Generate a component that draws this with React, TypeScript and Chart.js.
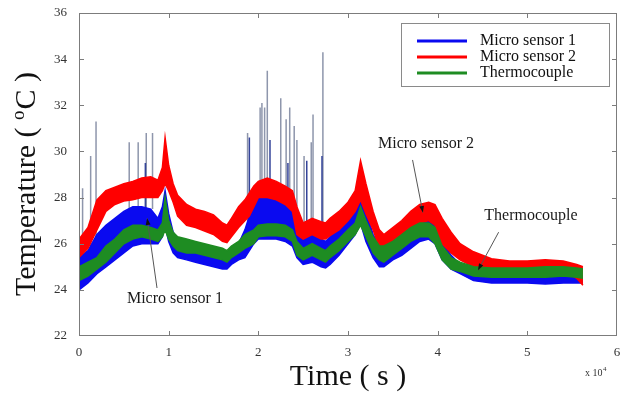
import React, { useEffect, useRef } from "react";
import { Chart, registerables } from "chart.js";

Chart.register(...registerables);

// Time in units of 10^4 s
const TIME = [0, 0.1, 0.2, 0.3, 0.4, 0.5, 0.6, 0.7, 0.8, 0.88, 0.93, 0.96, 1.0, 1.05, 1.1, 1.2, 1.3, 1.4, 1.5, 1.6, 1.65, 1.7, 1.78, 1.85, 1.9, 1.95, 2.0, 2.1, 2.2, 2.3, 2.38, 2.43, 2.5, 2.6, 2.7, 2.75, 2.8, 2.9, 3.0, 3.08, 3.14, 3.2, 3.28, 3.35, 3.4, 3.5, 3.6, 3.7, 3.8, 3.9, 3.97, 4.05, 4.15, 4.25, 4.4, 4.6, 4.8, 5.0, 5.2, 5.4, 5.55, 5.62];

// Micro sensor 2 (red) band: upper / lower envelope
const SENSOR2_HIGH = [26.2, 26.7, 27.9, 28.3, 28.45, 28.6, 28.7, 28.85, 28.9, 28.75, 29.3, 30.6, 29.4, 28.6, 28.1, 27.7, 27.5, 27.4, 27.25, 26.9, 26.8, 27.1, 27.6, 27.9, 28.2, 28.5, 28.7, 28.85, 28.7, 28.5, 28.3, 27.6, 26.9, 27.1, 26.95, 26.9, 27.1, 27.4, 27.8, 28.3, 29.6, 28.6, 27.4, 26.6, 26.4, 26.7, 27.0, 27.4, 27.7, 27.8, 27.7, 27.1, 26.5, 26.0, 25.65, 25.35, 25.25, 25.25, 25.3, 25.25, 25.1, 25.0];
const SENSOR2_LOW = [25.4, 25.8, 26.6, 27.4, 27.7, 27.85, 27.9, 28.0, 28.0, 28.0, 28.3, 28.6, 28.3, 27.8, 27.2, 26.8, 26.7, 26.55, 26.4, 26.1, 26.05, 26.3, 26.7, 27.0, 27.2, 27.6, 28.0, 28.0, 27.9, 27.7, 27.4, 26.4, 26.2, 26.4, 26.2, 26.2, 26.35, 26.6, 27.0, 27.4, 27.9, 27.3, 26.6, 25.8, 25.7, 25.9, 26.2, 26.6, 26.9, 27.0, 26.8, 26.0, 25.6, 25.3, 25.0, 24.9, 24.9, 24.85, 24.85, 24.85, 24.5, 24.2];

// Micro sensor 1 (blue) band
const SENSOR1_HIGH = [25.4, 25.7, 26.4, 26.8, 27.1, 27.4, 27.6, 27.6, 27.5, 27.1, 27.6, 28.3, 27.3, 26.5, 26.2, 26.0, 25.9, 25.8, 25.7, 25.6, 25.5, 25.8, 26.0, 26.6, 27.2, 27.6, 28.0, 28.1, 27.9, 27.8, 27.4, 26.8, 26.3, 26.6, 26.2, 26.1, 26.3, 26.7, 27.2, 27.6, 28.3, 27.4, 26.4, 25.9, 25.8, 26.0, 26.3, 26.6, 26.9, 27.0, 26.9, 26.0, 25.5, 25.1, 24.9, 24.7, 24.6, 24.6, 24.6, 24.6, 24.6, 24.6];
const SENSOR1_LOW = [24.0, 24.3, 24.7, 25.0, 25.3, 25.6, 25.9, 26.0, 26.0, 26.0, 26.3, 26.8, 26.1, 25.6, 25.4, 25.3, 25.2, 25.1, 25.0, 24.9, 24.9, 25.1, 25.3, 25.4, 25.7, 26.0, 26.2, 26.2, 26.2, 26.1, 25.9, 25.4, 25.1, 25.2, 25.0, 24.95, 25.1, 25.5, 26.0, 26.4, 26.9, 26.1, 25.4, 25.0, 25.0, 25.3, 25.5, 25.8, 26.1, 26.2, 26.0, 25.3, 24.9, 24.7, 24.4, 24.3, 24.3, 24.3, 24.25, 24.3, 24.3, 24.3];

// Thermocouple (green) band
const THERMO_HIGH = [25.0, 25.2, 25.4, 25.9, 26.2, 26.6, 26.8, 26.8, 26.7, 26.6, 26.9, 28.0, 27.0, 26.5, 26.3, 26.2, 26.1, 26.0, 25.9, 25.8, 25.7, 25.9, 26.1, 26.4, 26.5, 26.6, 26.8, 26.85, 26.85, 26.8, 26.6, 26.1, 25.8, 26.0, 25.8, 25.7, 25.9, 26.2, 26.6, 26.9, 27.6, 27.0, 26.3, 25.9, 25.9, 26.1, 26.4, 26.7, 26.9, 26.9, 26.7, 25.9, 25.4, 25.2, 25.0, 24.95, 24.95, 24.95, 25.0, 25.0, 24.95, 24.9];
const THERMO_LOW = [24.4, 24.6, 24.9, 25.2, 25.6, 26.0, 26.2, 26.3, 26.2, 26.1, 26.3, 26.6, 26.2, 25.9, 25.7, 25.6, 25.6, 25.5, 25.4, 25.3, 25.2, 25.4, 25.6, 25.8, 25.9, 26.0, 26.3, 26.35, 26.35, 26.3, 26.1, 25.5, 25.3, 25.5, 25.3, 25.2, 25.4, 25.7, 26.1, 26.4, 26.8, 26.3, 25.6, 25.3, 25.2, 25.5, 25.8, 26.1, 26.3, 26.3, 26.0, 25.3, 24.9, 24.8, 24.6, 24.55, 24.55, 24.55, 24.55, 24.6, 24.55, 24.5];

// Spikes in micro sensor 1 signal
const SPIKE_GRAY_TIME = [0.04, 0.13, 0.19, 0.56, 0.66, 0.75, 0.82, 1.88, 2.02, 2.04, 2.07, 2.10, 2.25, 2.31, 2.35, 2.40, 2.43, 2.51, 2.59, 2.61, 2.72];
const SPIKE_GRAY_TOP = [28.4, 29.8, 31.3, 30.4, 30.4, 30.8, 30.8, 30.8, 31.9, 32.1, 31.9, 33.5, 32.3, 31.4, 31.9, 31.1, 30.5, 29.8, 30.4, 31.6, 34.3];
const SPIKE_GRAY_BASE = [25.5, 25.8, 26.0, 27.3, 27.5, 27.5, 27.5, 27.0, 27.5, 27.5, 27.5, 27.5, 27.5, 27.5, 27.3, 27.0, 26.5, 26.3, 26.4, 26.4, 26.3];
const SPIKE_DARK_TIME = [0.74, 1.90, 2.13, 2.33, 2.54, 2.71];
const SPIKE_DARK_TOP = [29.5, 30.6, 30.5, 29.5, 29.6, 29.8];
const SPIKE_DARK_BASE = [27.3, 27.0, 27.5, 27.3, 26.4, 26.3];

const X_TICKS = [0, 1, 2, 3, 4, 5, 6];
const Y_TICKS = [22, 24, 26, 28, 30, 32, 34, 36];

const SERIES_NAMES = ["Micro sensor 1", "Micro sensor 2", "Thermocouple"];
const SERIES_COLORS = ["#0a0af0", "#ff0000", "#1e8c22"];

// Annotations: [label, textX, textY, lineStartX, lineStartY, arrowX, arrowY] in data units
const ANNOTATIONS: [string, number, number, number, number, number, number][] = [
  ["Micro sensor 2", 3.87, 30.32, 3.72, 29.63, 3.835, 27.35],
  ["Micro sensor 1", 1.07, 23.6, 0.87, 24.08, 0.76, 27.1],
  ["Thermocouple", 5.04, 27.2, 4.68, 26.5, 4.45, 24.85],
];

const SERIF = '"Liberation Serif", "Times New Roman", "DejaVu Serif", serif';

function band(high: number[], low: number[], color: string) {
  return [
    {
      data: TIME.map((t, i) => ({ x: t, y: high[i] })),
      borderColor: color,
      backgroundColor: color,
      borderWidth: 1.5,
      pointRadius: 0,
      fill: "+1",
      tension: 0,
    },
    {
      data: TIME.map((t, i) => ({ x: t, y: low[i] })),
      borderColor: color,
      backgroundColor: color,
      borderWidth: 1.5,
      pointRadius: 0,
      fill: false,
      tension: 0,
    },
  ];
}

function spikes(times: number[], base: number[], top: number[]) {
  const pts: { x: number; y: number | null }[] = [];
  times.forEach((t, i) => {
    pts.push({ x: t, y: base[i] });
    pts.push({ x: t, y: top[i] });
    pts.push({ x: t, y: null });
  });
  return pts;
}

const framePlugin = {
  id: "frame",
  afterDatasetsDraw(chart: any) {
    const { ctx, chartArea, scales } = chart;
    const { left, right, top, bottom } = chartArea;
    const xs = scales.x;
    const ys = scales.y;
    ctx.save();
    ctx.strokeStyle = "#7c7c7c";
    ctx.lineWidth = 1;
    ctx.strokeRect(left + 0.5, top + 0.5, right - left - 1, bottom - top - 1);
    ctx.beginPath();
    X_TICKS.slice(1, -1).forEach((v) => {
      const px = Math.round(xs.getPixelForValue(v)) + 0.5;
      ctx.moveTo(px, bottom);
      ctx.lineTo(px, bottom - 5);
      ctx.moveTo(px, top);
      ctx.lineTo(px, top + 5);
    });
    Y_TICKS.slice(1, -1).forEach((v) => {
      const py = Math.round(ys.getPixelForValue(v)) + 0.5;
      ctx.moveTo(left, py);
      ctx.lineTo(left + 5, py);
      ctx.moveTo(right, py);
      ctx.lineTo(right - 5, py);
    });
    ctx.stroke();

    // legend
    const bw = 208;
    const bh = 63;
    const bx = right - 8 - bw;
    const by = top + 10;
    ctx.fillStyle = "#ffffff";
    ctx.fillRect(bx, by, bw, bh);
    ctx.strokeStyle = "#8a8a8a";
    ctx.strokeRect(bx + 0.5, by + 0.5, bw, bh);
    ctx.font = `16px ${SERIF}`;
    ctx.textBaseline = "middle";
    ctx.textAlign = "left";
    SERIES_NAMES.forEach((name, i) => {
      const yy = by + 18 + i * 16;
      ctx.strokeStyle = SERIES_COLORS[i];
      ctx.lineWidth = 3;
      ctx.beginPath();
      ctx.moveTo(bx + 16, yy);
      ctx.lineTo(bx + 66, yy);
      ctx.stroke();
      ctx.fillStyle = "#111";
      ctx.fillText(name, bx + 79, yy);
    });

    // annotations
    ctx.lineWidth = 1;
    ANNOTATIONS.forEach(([label, tx, ty, lx, ly, ax, ay]) => {
      const x0 = xs.getPixelForValue(lx);
      const y0 = ys.getPixelForValue(ly);
      const x1 = xs.getPixelForValue(ax);
      const y1 = ys.getPixelForValue(ay);
      ctx.strokeStyle = "#555";
      ctx.beginPath();
      ctx.moveTo(x0, y0);
      ctx.lineTo(x1, y1);
      ctx.stroke();
      const ang = Math.atan2(y1 - y0, x1 - x0);
      ctx.fillStyle = "#111";
      ctx.beginPath();
      ctx.moveTo(x1, y1);
      ctx.lineTo(x1 - 7 * Math.cos(ang - 0.35), y1 - 7 * Math.sin(ang - 0.35));
      ctx.lineTo(x1 - 7 * Math.cos(ang + 0.35), y1 - 7 * Math.sin(ang + 0.35));
      ctx.closePath();
      ctx.fill();
      ctx.fillStyle = "#1a1a1a";
      ctx.font = `16px ${SERIF}`;
      ctx.textAlign = "center";
      ctx.textBaseline = "middle";
      ctx.fillText(label, xs.getPixelForValue(tx), ys.getPixelForValue(ty));
    });

    // axis titles
    ctx.fillStyle = "#111";
    ctx.textBaseline = "alphabetic";
    ctx.textAlign = "center";
    ctx.font = `30px ${SERIF}`;
    ctx.fillText("Time ( s )", (left + right) / 2, 385);

    // y title with superscript o
    ctx.save();
    ctx.translate(35, 184);
    ctx.rotate(-Math.PI / 2);
    const partA = "Temperature ( ";
    const partSup = "o";
    const partB = "C )";
    ctx.font = `30px ${SERIF}`;
    const wA = ctx.measureText(partA).width;
    const wB = ctx.measureText(partB).width;
    ctx.font = `19px ${SERIF}`;
    const wS = ctx.measureText(partSup).width + 1;
    const total = wA + wS + wB;
    let cx = -total / 2;
    ctx.textAlign = "left";
    ctx.font = `30px ${SERIF}`;
    ctx.fillText(partA, cx, 0);
    cx += wA;
    ctx.font = `19px ${SERIF}`;
    ctx.fillText(partSup, cx, -11);
    cx += wS;
    ctx.font = `30px ${SERIF}`;
    ctx.fillText(partB, cx, 0);
    ctx.restore();

    // x 10^4 multiplier
    ctx.fillStyle = "#333";
    ctx.textAlign = "left";
    ctx.font = `10px ${SERIF}`;
    ctx.fillText("x 10", 585, 376);
    const w10 = ctx.measureText("x 10").width;
    ctx.font = `7px ${SERIF}`;
    ctx.fillText("4", 585 + w10 + 0.5, 371);
    ctx.restore();
  },
};

export default function App() {
  const canvasRef = useRef<HTMLCanvasElement | null>(null);

  useEffect(() => {
    if (!canvasRef.current) return;
    const [gHi, gLo] = band(THERMO_HIGH, THERMO_LOW, SERIES_COLORS[2]);
    const [rHi, rLo] = band(SENSOR2_HIGH, SENSOR2_LOW, SERIES_COLORS[1]);
    const [bHi, bLo] = band(SENSOR1_HIGH, SENSOR1_LOW, SERIES_COLORS[0]);
    const chart = new Chart(canvasRef.current, {
      type: "line",
      data: {
        datasets: [
          gHi,
          gLo,
          rHi,
          rLo,
          bHi,
          bLo,
          {
            data: spikes(SPIKE_DARK_TIME, SPIKE_DARK_BASE, SPIKE_DARK_TOP),
            borderColor: "#34449a",
            borderWidth: 1.5,
            pointRadius: 0,
            fill: false,
            spanGaps: false,
          },
          {
            data: spikes(SPIKE_GRAY_TIME, SPIKE_GRAY_BASE, SPIKE_GRAY_TOP),
            borderColor: "#8e96ac",
            borderWidth: 1.5,
            pointRadius: 0,
            fill: false,
            spanGaps: false,
          },
        ] as any,
      },
      options: {
        animation: false,
        responsive: false,
        events: [],
        layout: { padding: { top: 13, right: 6, left: 0, bottom: 0 } },
        plugins: {
          legend: { display: false },
          tooltip: { enabled: false },
          filler: { propagate: false },
        },
        scales: {
          x: {
            type: "linear",
            min: 0,
            max: 6,
            afterBuildTicks: (s: any) => {
              s.ticks = X_TICKS.map((v) => ({ value: v }));
            },
            afterFit: (s: any) => {
              s.height = 59;
            },
            grid: {
              display: true,
              drawOnChartArea: false,
              drawTicks: true,
              tickLength: 9,
              tickColor: "rgba(0,0,0,0)",
            },
            border: { display: false },
            ticks: {
              padding: 0,
              color: "#333",
              font: { family: SERIF, size: 13 },
              maxRotation: 0,
            },
          },
          y: {
            type: "linear",
            min: 22,
            max: 36,
            afterBuildTicks: (s: any) => {
              s.ticks = Y_TICKS.map((v) => ({ value: v }));
            },
            afterFit: (s: any) => {
              s.width = 79;
            },
            grid: {
              display: true,
              drawOnChartArea: false,
              drawTicks: true,
              tickLength: 12,
              tickColor: "rgba(0,0,0,0)",
            },
            border: { display: false },
            ticks: {
              padding: 0,
              color: "#333",
              font: { family: SERIF, size: 13 },
            },
          },
        },
      } as any,
      plugins: [framePlugin],
    });
    return () => chart.destroy();
  }, []);

  return (
    <div style={{ position: "absolute", left: 0, top: 0, width: 623, height: 395, background: "#fff" }}>
      <canvas ref={canvasRef} width={623} height={395} style={{ display: "block" }} />
    </div>
  );
}
